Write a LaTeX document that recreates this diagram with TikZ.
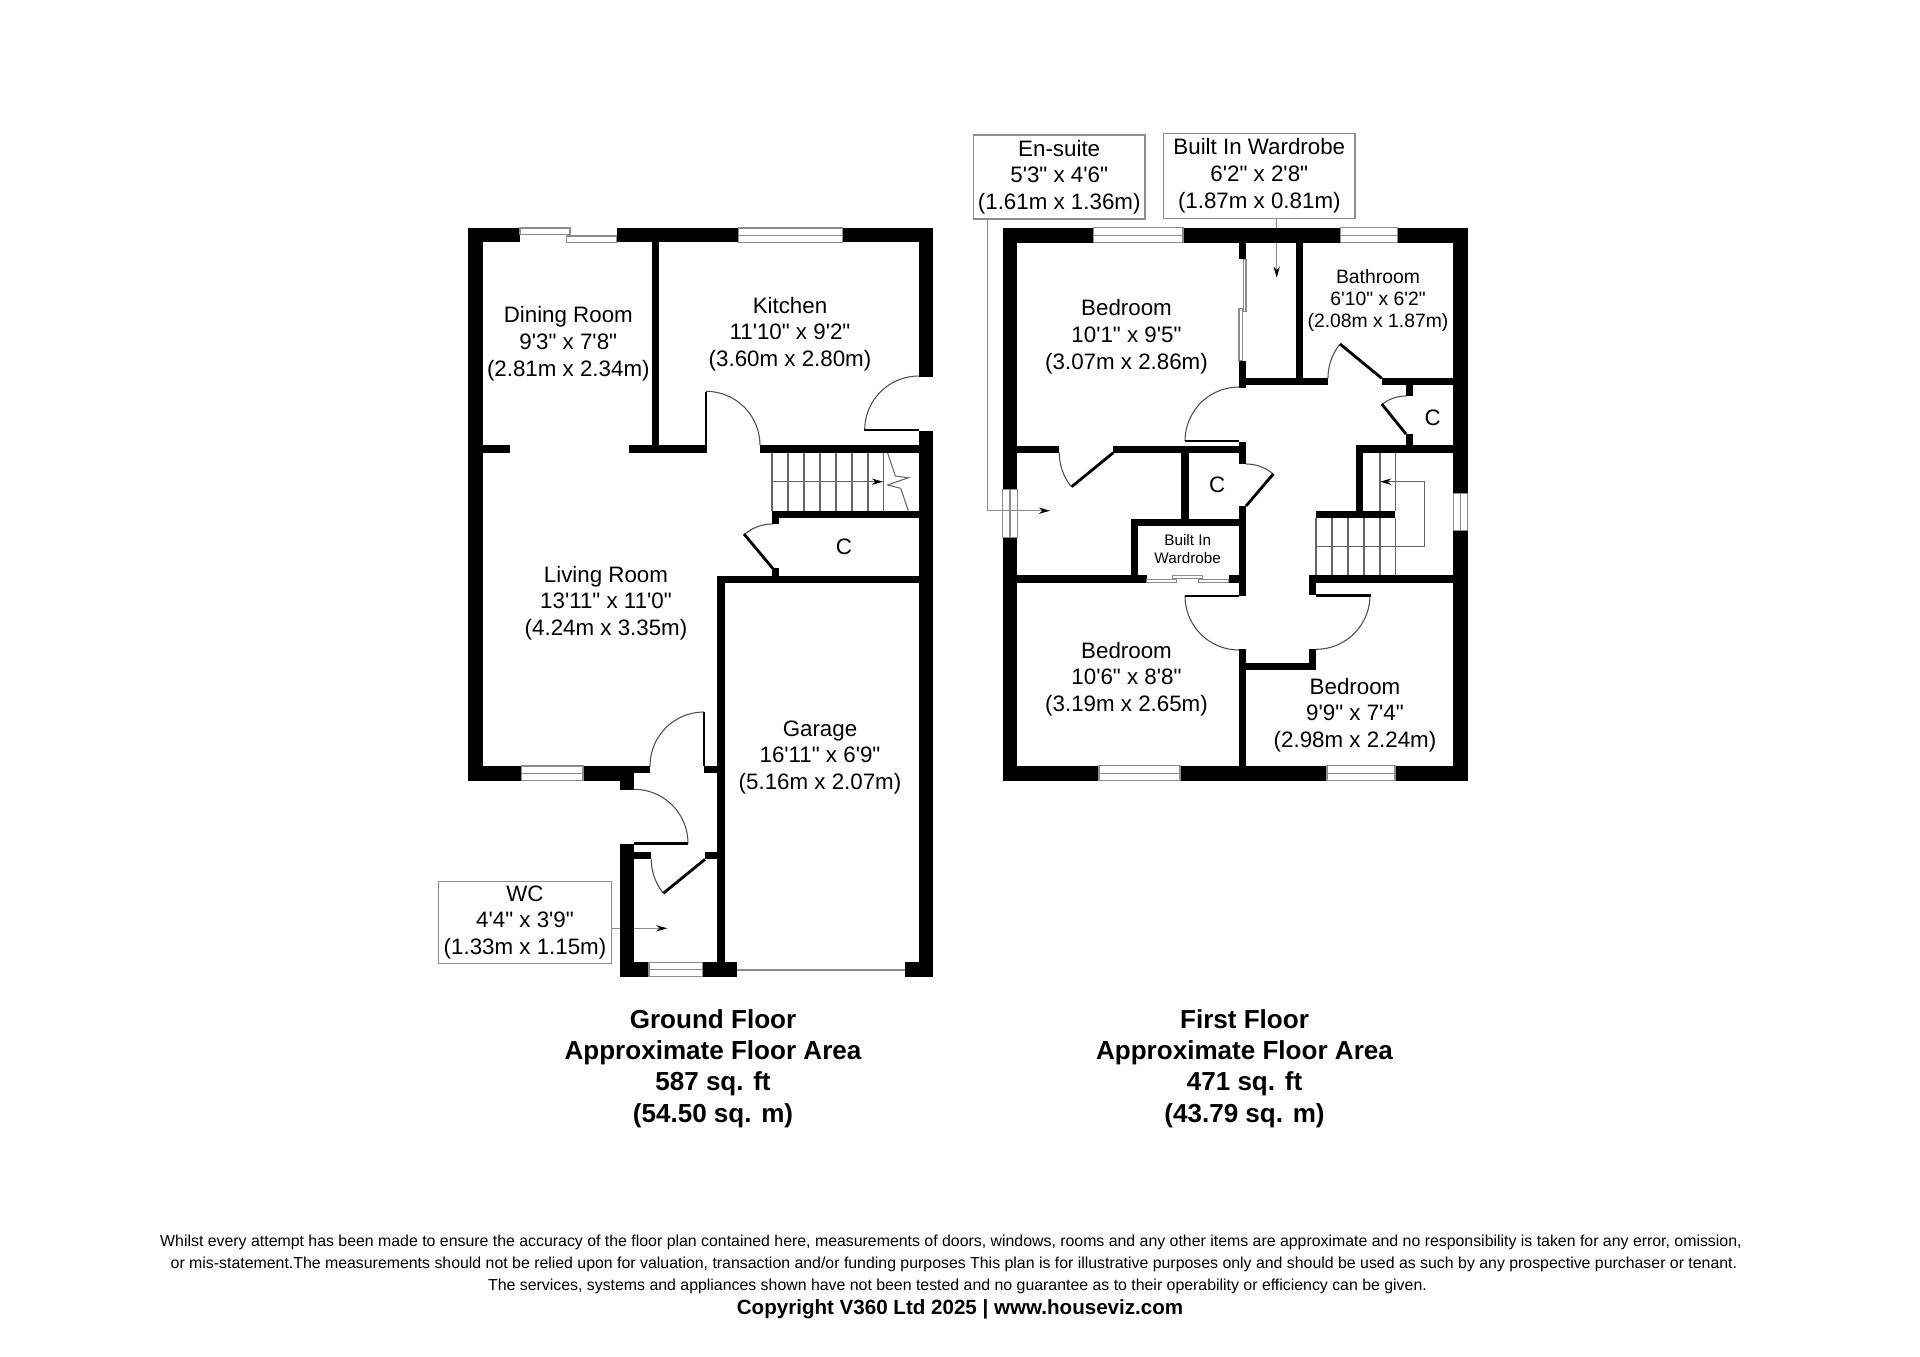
\documentclass[tikz,border=0pt]{standalone}
\usepackage{fontspec}
\setmainfont{Liberation Sans}[Ligatures=TeXOff]
\usetikzlibrary{positioning}
\usetikzlibrary{arrows.meta}
\definecolor{accent}{rgb}{0.55,0.55,0.55}

% swing of a door: hinge x, hinge y, radius, start angle, end angle
\newcommand{\doorarc}[5]{
  \draw[swing] plot[domain=#4:#5, samples=25, smooth] ({#1+#3*cos(\x)},{#2+#3*sin(\x)});
}

\begin{document}
\begin{tikzpicture}[
  x=0.01cm, y=-0.01cm,
  wall/.style = {fill=black},
  line/.style = {line width=0.3pt, color=accent},
  swing/.style = {line width=0.3pt, color=black!70},
  leaf/.style = {line width=0.8pt, color=black},
  riser/.style = {line width=0.3pt, color=black!60},
  room/.style = {font=\fontsize{6.35}{7.6}\selectfont, align=center, inner sep=0pt},
  smallroom/.style = {font=\fontsize{5.5}{6.3}\selectfont, align=center, inner sep=0pt},
  tinyroom/.style = {font=\fontsize{4.35}{5.2}\selectfont, align=center, inner sep=0pt},
  tagbox/.style = {room, draw=accent, line width=0.4pt},
  floorname/.style = {font=\fontsize{7.41}{8.9}\selectfont\bfseries, align=center, inner sep=0pt},
  note/.style = {font=\fontsize{4.515}{5.4}\selectfont, inner sep=0pt},
  >={Stealth[length=3.2pt, width=1.8pt, black]},
]

  \useasboundingbox (0,0) rectangle (1920,1357);

  % tag boxes and leaders go under the walls
  \node[tagbox, minimum width=173.3*0.01cm, minimum height=81.6*0.01cm] (wcbox) at (525,922.5) {WC\\4'4" x 3'9"\\(1.33m x 1.15m)};
  \node[tagbox, minimum width=171.5*0.01cm, minimum height=84*0.01cm] (ensuitebox) at (1059.2,177) {En-suite\\5'3" x 4'6"\\(1.61m x 1.36m)};
  \node[tagbox, minimum width=191.3*0.01cm, minimum height=85*0.01cm] (wardrobebox) at (1259.3,175.8) {Built In Wardrobe\\6'2" x 2'8"\\(1.87m x 0.81m)};

  \coordinate (wctip) at (667.3,928.3);
  \coordinate (ensuitebend) at (987.7,510.7);
  \coordinate (ensuitetip) at (1050,510.7);
  \coordinate (wardrobetip) at (1276.7,277.7);

  \draw[line,->] (wcbox.east |- wctip) -- (wctip);
  \draw[line,->] (ensuitebox.south -| ensuitebend) -- (ensuitebend) -- (ensuitetip);
  \draw[line,->] (wardrobebox.south -| wardrobetip) -- (wardrobetip);

  % ground floor walls
  \foreach \xa/\ya/\xb/\yb in {
    468/228/483/780.7, 468/228/520/242.3, 617/228/738.7/242.3, 842.7/228/933/242.3,
    918.7/228/933/376.7, 918.7/430.7/933/976.7, 652/242/659.3/453,
    483/445.3/510/453, 629/445.3/706/453, 760/445.3/918.7/453,
    772.3/510.7/918.7/518, 772.3/518/779.3/524.3, 772.3/568.3/779.3/575.7,
    717.3/575.7/918.7/583, 717.3/583/724.7/976.7,
    468/766/521.3/780.7, 583/766/650/773.3, 583/773.3/634/780.7, 620/780.7/634/790,
    704/766/717.3/773.3, 634/852/651.3/859.3, 705/852/717.3/859.3,
    620/844/634/976.7, 620/962.3/649/976.7, 702.7/962.3/737.3/976.7, 905/962.3/933/976.7}
    \fill[wall] (\xa,\ya) rectangle (\xb,\yb);

  % first floor walls
  \foreach \xa/\ya/\xb/\yb in {
    1002.7/227.7/1017.3/489.3, 1002.7/537.3/1017.3/780.7,
    1002.7/227.7/1093.3/242.7, 1183/227.7/1340.7/242.7, 1397.7/227.7/1467.7/242.7,
    1453.3/227.7/1467.7/493.3, 1453.3/530.7/1467.7/780.7,
    1002.7/765.7/1099/780.7, 1180/765.7/1327/780.7, 1395/765.7/1467.7/780.7,
    1239/242.7/1246/259.3, 1239/360.7/1246/387.7, 1239/377.7/1328/385,
    1296/242.7/1303.3/377.7, 1381.7/377.7/1453.3/385,
    1406/385/1413.3/396, 1406/434/1413.3/445, 1356/445/1453.3/452.7,
    1239/441.7/1246/464, 1017.3/445.7/1059.3/452.7, 1113.3/445.7/1239/452.7,
    1181.3/452.7/1188.7/519, 1239/506/1246/596, 1131/519/1239/526.3, 1131/526.3/1138/575.3,
    1017.3/575.3/1146.7/582.7, 1228.7/575.3/1246/582.7,
    1239/649.3/1246/765.7, 1246/662.7/1316/670, 1308.7/649.3/1316/670,
    1308.7/575.3/1316/595.3, 1316/575.3/1453.3/582.7,
    1355.7/445/1362.7/510.7, 1316/510.7/1395.3/518}
    \fill[wall] (\xa,\ya) rectangle (\xb,\yb);

  % windows, lying along x
  \foreach \xa/\xb/\ya/\yb in {
    738.7/842.7/228/242.3, 521.3/583/766/780.7, 649/702.7/962.3/976.7,
    1093.3/1183/227.7/242.7, 1340.7/1397.7/227.7/242.7,
    1099/1180/765.7/780.7, 1327/1395/765.7/780.7}
    \draw[line] (\xa,\ya) rectangle (\xb,\yb) (\xa,{(\ya+\yb)/2}) -- (\xb,{(\ya+\yb)/2});

  % windows, lying along y
  \foreach \ya/\yb/\xa/\xb in {489.3/537.3/1002.7/1017.3, 493.3/530.7/1453.3/1467.7}
    \draw[line] (\xa,\ya) rectangle (\xb,\yb) ({(\xa+\xb)/2},\ya) -- ({(\xa+\xb)/2},\yb);

  % sliding panels
  \foreach \xa/\ya/\xb/\yb in {
    520/228/570/234.7, 566.7/236/616.7/242.3,
    1243.3/259.3/1246/311.7, 1239/308.3/1242.7/360.7,
    1146.7/579.3/1176.7/582.7, 1172.7/575.3/1202.3/578.7, 1198.7/579.3/1228.7/582.7}
    \draw[line] (\xa,\ya) rectangle (\xb,\yb);

  % garage door
  \draw[line] (737.3,970) -- (905,970);

  % ground floor doors
  \doorarc{918.7}{430}{54}{180}{270}
  \doorarc{706}{445.3}{54}{-90}{0}
  \doorarc{772.7}{568}{44}{230}{270}
  \doorarc{704}{766}{54}{180}{270}
  \doorarc{634}{843.3}{54}{-90}{0}
  \doorarc{705}{859.3}{53.7}{141}{180}
  \draw[leaf] (864,430) -- (918.7,430);
  \draw[leaf] (706,391.7) -- (706,453);
  \draw[leaf] (744,534) -- (772.7,568.3);
  \draw[leaf] (704,712) -- (704,766);
  \draw[leaf] (634,843.3) -- (688.3,843.3);
  \draw[leaf] (663.3,893.3) -- (705,859.3);

  % first floor doors
  \doorarc{1239}{441}{54}{180}{270}
  \doorarc{1381.7}{378}{53.7}{180}{219}
  \doorarc{1406}{434}{38}{231}{270}
  \doorarc{1113.3}{452.7}{54}{141}{180}
  \doorarc{1246}{506}{42}{-90}{-49.5}
  \doorarc{1239}{596}{54}{90}{180}
  \doorarc{1316}{595.3}{54}{0}{90}
  \draw[leaf] (1184.7,441) -- (1239,441);
  \draw[leaf] (1340,344) -- (1381.7,378.3);
  \draw[leaf] (1381.7,404) -- (1406,434);
  \draw[leaf] (1071.7,486.7) -- (1113.3,452.7);
  \draw[leaf] (1273.3,474) -- (1246,506);
  \draw[leaf] (1185,596) -- (1239,596);
  \draw[leaf] (1316,595.3) -- (1370.7,595.3);

  % stairs
  \foreach \x in {772,788,804,820,836,852,868,883.5}
    \draw[riser] (\x,453) -- (\x,510.7);
  \coordinate (lowertip) at (883,481.7);
  \draw[riser,->] (772,481.7) -- (lowertip);
  \draw[riser] (887.7,453) -- (895.3,476) -- (908.3,477.7) -- (887.7,485) -- (900.7,488.3) -- (908.3,510.7);

  \foreach \x in {1316,1332,1348,1364,1380,1395.7}
    \draw[riser] (\x,518) -- (\x,575.3);
  \foreach \x in {1380,1395.7}
    \draw[riser] (\x,452.7) -- (\x,510.7);
  \coordinate (uppertip) at (1380,481.7);
  \draw[riser,->] (1316,546.7) -- (1424.3,546.7) -- (1424.3,481.7) -- (uppertip);

  % room names
  \node[room] (dining) at (568.3,343.5) {Dining Room\\9'3" x 7'8"\\(2.81m x 2.34m)};
  \node[room] (kitchen) at (790,334) {Kitchen\\11'10" x 9'2"\\(3.60m x 2.80m)};
  \node[room] (living) at (606,603) {Living Room\\13'11" x 11'0"\\(4.24m x 3.35m)};
  \node[room] (garage) at (820,757.5) {Garage\\16'11" x 6'9"\\(5.16m x 2.07m)};
  \node[room] (cupboarda) at (844,547) {C};
  \node[room] (bedrooma) at (1126.5,336.5) {Bedroom\\10'1" x 9'5"\\(3.07m x 2.86m)};
  \node[room] (bedroomb) at (1126.5,679) {Bedroom\\10'6" x 8'8"\\(3.19m x 2.65m)};
  \node[room] (bedroomc) at (1355,715) {Bedroom\\9'9" x 7'4"\\(2.98m x 2.24m)};
  \node[smallroom] (bathroom) at (1378,300.5) {Bathroom\\6'10" x 6'2"\\(2.08m x 1.87m)};
  \node[room] (cupboardb) at (1432.7,418) {C};
  \node[room] (cupboardc) at (1217.3,485) {C};
  \node[tinyroom] (wardrobe) at (1187.7,549) {Built In\\Wardrobe};

  % areas
  \node[floorname] (groundarea) at (713,1068.5) {Ground Floor\\Approximate Floor Area\\587 sq. ft\\(54.50 sq. m)};
  \node[floorname] (firstarea) at (1244.5,1068.5) {First Floor\\Approximate Floor Area\\471 sq. ft\\(43.79 sq. m)};

  % small print
  \node[note] (notea) at (951,1242) {Whilst every attempt has been made to ensure the accuracy of the floor plan contained here, measurements of doors, windows, rooms and any other items are approximate and no responsibility is taken for any error, omission,};
  \node[note] (noteb) at (954,1264.5) {or mis-statement.The measurements should not be relied upon for valuation, transaction and/or funding purposes This plan is for illustrative purposes only and should be used as such by any prospective purchaser or tenant.};
  \node[note] (notec) at (957.5,1286.5) {The services, systems and appliances shown have not been tested and no guarantee as to their operability or efficiency can be given.};
  \node[note, font=\fontsize{5.85}{7}\selectfont\bfseries] (copyright) at (960,1309) {Copyright V360 Ltd 2025 | www.houseviz.com};

\end{tikzpicture}
\end{document}
